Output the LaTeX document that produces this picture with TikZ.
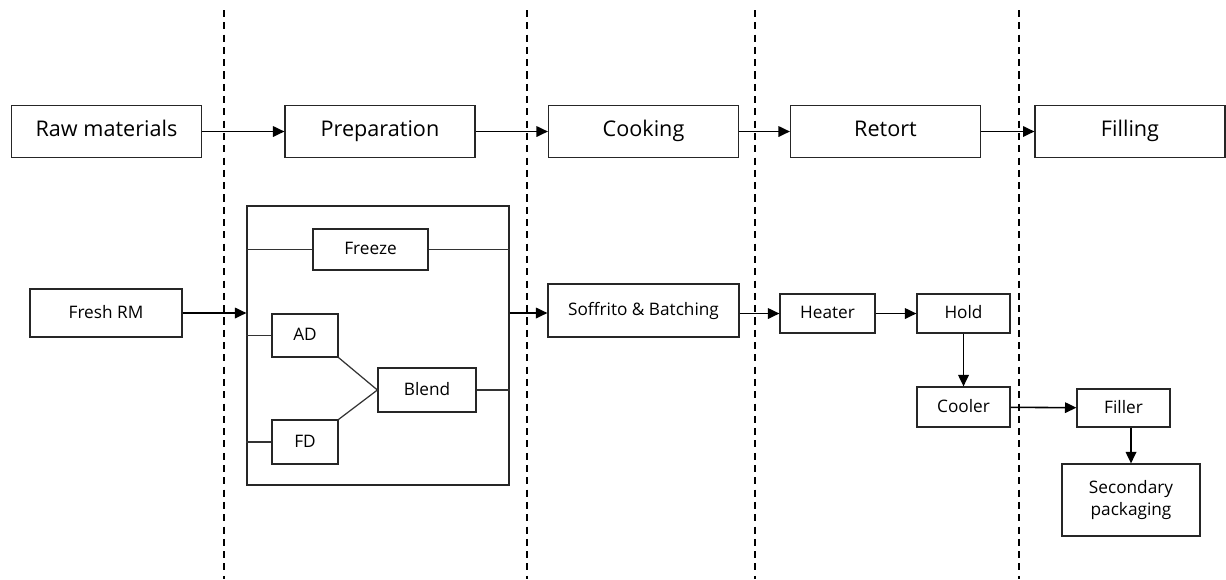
\documentclass[tikz,border=0pt]{standalone}
\usepackage{fontspec}
\setmainfont{Open Sans}
\usetikzlibrary{
    arrows.meta,
    positioning,
    calc
}
\tikzset{
    % --- Stage box in the top row ---
    stage/.style = {
        rectangle, draw=black!85, line width=0.7pt,
        minimum width=3.8cm, minimum height=1.05cm,
        font=\fontsize{12.3}{14}\selectfont, align=center,
        text height=0.8em, text depth=0.2em,
        inner sep=0pt
    },
    % --- Unit operation box ---
    unit/.style = {
        rectangle, draw=black!85, line width=0.7pt,
        font=\fontsize{9.8}{13}\selectfont, align=center,
        inner sep=0pt
    },
    % --- Single line label in a unit box ---
    one line/.style = {
        text height=0.78em, text depth=0.2em
    },
    % --- Process flow arrow ---
    flow/.style = {
        -{Triangle[length=6.5pt,width=6pt]}, line width=0.9pt
    },
    % --- Plain joining line inside preparation ---
    link/.style = {
        line width=0.7pt, black!80
    },
    % --- Stage separator ---
    stage sep/.style = {
        dashed, line width=0.9pt, dash pattern=on 4pt off 3pt
    }
}

\begin{document}
\begin{tikzpicture}[x=0.02cm, y=-0.02cm]

\useasboundingbox (0,0) rectangle (1226,579);

% ---------------------------------------------------------
% Stage separators
% ---------------------------------------------------------
\foreach \sx [count=\i] in {224, 527, 755, 1019} {
    \coordinate (sepTop\i) at (\sx, 10);
    \coordinate (sepBot\i) at (\sx, 579);
    \draw[stage sep] (sepTop\i) -- (sepBot\i);
}

% ---------------------------------------------------------
% Top row: process stages
% ---------------------------------------------------------
\node[stage] (Raw)    at (106.5, 131.5) {Raw materials};
\node[stage] (Prep)   at (380, 131.5)   {Preparation};
\node[stage] (Cook)   at (643.5, 131.5) {Cooking};
\node[stage] (Retort) at (885.5, 131.5) {Retort};
\node[stage] (Fill)   at (1130, 131.5)  {Filling};

\draw[flow] (Raw) -- (Prep);
\draw[flow] (Prep) -- (Cook);
\draw[flow] (Cook) -- (Retort);
\draw[flow] (Retort) -- (Fill);

% ---------------------------------------------------------
% Preparation block
% ---------------------------------------------------------
\node[unit, one line, minimum width=3.04cm, minimum height=0.96cm] (FreshRM) at (106, 313) {Fresh RM};

\node[unit, minimum width=5.24cm, minimum height=5.58cm] (PrepBox) at (378, 345.5) {};

\node[unit, one line, minimum width=2.30cm, minimum height=0.82cm] (Freeze) at (370.5, 249.5) {Freeze};
\node[unit, one line, minimum width=1.32cm, minimum height=0.86cm] (AD)     at (305, 335.5)   {AD};
\node[unit, one line, minimum width=1.32cm, minimum height=0.88cm] (FD)     at (305, 442)     {FD};
\node[unit, one line, minimum width=1.96cm, minimum height=0.88cm] (Blend)  at (427, 390)     {Blend};

\coordinate (PrepIn)  at (PrepBox.west |- FreshRM.east);
\coordinate (PrepOut) at (PrepBox.east |- FreshRM.east);

\draw[flow] (FreshRM.east) -- (PrepIn);

% routes through the block
\draw[link] (PrepBox.west |- Freeze.west) -- (Freeze.west);
\draw[link] (Freeze.east) -- (PrepBox.east |- Freeze.east);
\draw[link] (PrepBox.west |- AD.west) -- (AD.west);
\draw[link] (PrepBox.west |- FD.west) -- (FD.west);
\draw[link] (AD.south east) -- (Blend.west);
\draw[link] (FD.north east) -- (Blend.west);
\draw[link] (Blend.east) -- (PrepBox.east |- Blend.east);

% ---------------------------------------------------------
% Cooking and retort
% ---------------------------------------------------------
\node[unit, one line, minimum width=3.82cm, minimum height=1.06cm] (Soffrito) at (643.5, 310.5) {Soffrito \& Batching};
\node[unit, one line, minimum width=1.90cm, minimum height=0.78cm] (Heater)   at (827.5, 313.5) {Heater};
\node[unit, one line, minimum width=1.86cm, minimum height=0.78cm] (Hold)     at (963.5, 313.5) {Hold};
\node[unit, one line, minimum width=1.86cm, minimum height=0.80cm] (Cooler)   at (963.5, 407)   {Cooler};

\draw[flow] (PrepOut) -- (PrepOut -| Soffrito.west);
\draw[flow] (Soffrito.east |- Heater.west) -- (Heater.west);
\draw[flow] (Heater) -- (Hold);
\draw[flow] (Hold) -- (Cooler);

% ---------------------------------------------------------
% Filling
% ---------------------------------------------------------
\node[unit, one line, minimum width=1.86cm, minimum height=0.76cm] (Filler) at (1123.5, 408) {Filler};
\node[unit, minimum width=2.76cm, minimum height=1.44cm] (Packing) at (1131, 500) {Secondary\\packaging};

\draw[flow] (Cooler) -- (Filler);
\draw[flow] (Filler.south -| Packing.north) -- (Packing.north);

\end{tikzpicture}
\end{document}
